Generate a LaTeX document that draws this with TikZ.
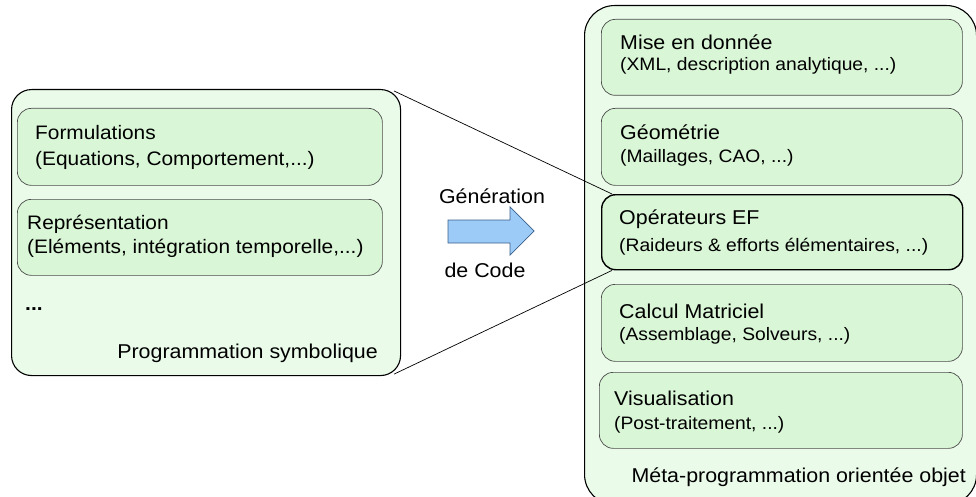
\documentclass[tikz,border=0pt]{standalone}
\usepackage{fontspec}
\setmainfont{Liberation Sans}[FakeStretch=1.07]
\definecolor{outerfill}{HTML}{EAFBEA}
\definecolor{innerfill}{HTML}{D9F6D6}
\definecolor{arrowfill}{HTML}{9DCBF7}
\definecolor{arrowline}{HTML}{3A5F8A}
\begin{document}
\begin{tikzpicture}[x=1pt,y=-1pt,
  outerbox/.style={draw=black, line width=1.1pt, fill=outerfill, rectangle, inner sep=0pt, anchor=north west},
  innerbox/.style={draw=black!70, line width=0.7pt, fill=innerfill, rectangle, rounded corners=14pt, inner sep=0pt, anchor=north west},
  hotbox/.style={innerbox, draw=black, line width=1.4pt},
  title/.style={anchor=base west, inner sep=0pt, font=\fontsize{20}{24}\selectfont},
  ltext/.style={anchor=base west, inner sep=0pt, font=\fontsize{19.5}{24}\selectfont},
  sub/.style={anchor=base west, inner sep=0pt, font=\fontsize{18}{21}\selectfont},
  lbl/.style={inner sep=0pt, font=\fontsize{20}{24}\selectfont},
  link/.style={draw=black, line width=0.7pt}
]
\useasboundingbox (0,0) rectangle (976,497);

% left group
\node[outerbox, rounded corners=20pt, minimum width=389pt, minimum height=286pt] (L) at (11,89) {};
\node[innerbox, minimum width=365pt, minimum height=77pt] (F) at (17,108) {};
\node[innerbox, minimum width=365pt, minimum height=76pt] (R) at (17,199) {};
\node[ltext] (Ft1) at (35,140) {Formulations};
\node[ltext] (Ft2) at (35,165) {(Equations, Comportement,...)};
\node[ltext] (Rt1) at (27,229) {Représentation};
\node[ltext] (Rt2) at (27,253) {(Eléments, intégration temporelle,...)};
\node[ltext, font=\bfseries\fontsize{19.5}{24}\selectfont] (dots) at (25,310) {...};
\node[lbl, anchor=base east] (Lt) at (378,358) {Programmation symbolique};

% right group
\node[outerbox, rounded corners=30pt, minimum width=392pt, minimum height=499pt] (M) at (584,5) {};
\node[innerbox, minimum width=361pt, minimum height=76pt] (B1) at (601,19) {};
\node[innerbox, minimum width=361pt, minimum height=77pt] (B2) at (601,108) {};
\node[hotbox, minimum width=361pt, minimum height=75pt] (B3) at (601,194) {};
\node[innerbox, minimum width=361pt, minimum height=77pt] (B4) at (601,284) {};
\node[innerbox, minimum width=363pt, minimum height=76pt] (B5) at (599,372) {};

\node[title] (B1a) at (620,50) {Mise en donnée};
\node[sub] (B1b) at (620,71) {(XML, description analytique, ...)};
\node[title] (B2a) at (620,140) {Géométrie};
\node[sub] (B2b) at (620,163) {(Maillages, CAO, ...)};
\node[title] (B3a) at (619,224) {Opérateurs EF};
\node[sub] (B3b) at (619,251) {(Raideurs \& efforts élémentaires, ...)};
\node[title] (B4a) at (619,318) {Calcul Matriciel};
\node[sub] (B4b) at (619,340) {(Assemblage, Solveurs, ...)};
\node[title] (B5a) at (614,405) {Visualisation};
\node[sub] (B5b) at (614,429) {(Post-traitement, ...)};
\node[lbl, anchor=base east] (Mt) at (966,482) {Méta-programmation orientée objet};

% connectors
\draw[link] ([shift={(-7,2)}]L.north east) -- ([shift={(11,0)}]B3.north west);
\draw[link] ([shift={(-7,-2)}]L.south east) -- ([shift={(11,0)}]B3.south west);

% arrow
\draw[draw=arrowline, fill=arrowfill, line width=0.7pt]
  (448,220) -- (510,220) -- (510,207) -- (534,231) -- (510,255) -- (510,243) -- (448,243) -- cycle;
\node[lbl, anchor=base] (G1) at (492,203) {Génération};
\node[lbl, anchor=base] (G2) at (485,277) {de Code};
\end{tikzpicture}
\end{document}
